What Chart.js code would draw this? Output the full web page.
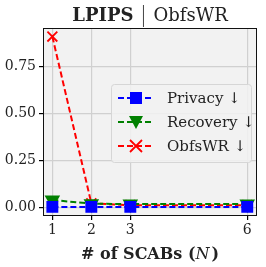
<!DOCTYPE html>
<html>
<head>
<script src="https://cdn.jsdelivr.net/npm/chart.js@4"></script>
<style>
  html, body { margin: 0; padding: 0; background: #fff; }
  #wrap { width: 266px; height: 267px; }
</style>
</head>
<body>
<div id="wrap"><canvas id="c" width="266" height="267"></canvas></div>
<script>
const scabs = [1, 2, 3, 6];
const privacy = [0.003, 0.003, 0.003, 0.003];
const recovery = [0.04, 0.02, 0.018, 0.018];
const obfswr = [0.91, 0.022, 0.012, 0.012];
const yTicks = [0, 0.25, 0.5, 0.75];

const serif = '"DejaVu Serif", "Liberation Serif", serif';

const toXY = arr => arr.map((v, i) => ({ x: scabs[i], y: v }));

const bgPlugin = {
  id: 'bg',
  beforeDraw(chart) {
    const { ctx, chartArea: a } = chart;
    ctx.save();
    ctx.fillStyle = '#f2f2f2';
    ctx.fillRect(a.left, a.top, a.right - a.left, a.bottom - a.top);
    ctx.restore();
  },
  afterDraw(chart) {
    const { ctx, chartArea: a } = chart;
    ctx.save();
    // frame
    ctx.strokeStyle = '#111';
    ctx.lineWidth = 1;
    ctx.strokeRect(a.left + 0.5, a.top + 0.5, a.right - a.left - 1, a.bottom - a.top - 1);

    // title
    ctx.fillStyle = '#222';
    ctx.textBaseline = 'alphabetic';
    ctx.font = 'bold 18px ' + serif;
    const t1 = 'LPIPS';
    const t2 = 'ObfsWR';
    const w1 = ctx.measureText(t1).width;
    ctx.font = '18px ' + serif;
    const w2 = ctx.measureText(t2).width;
    const gap = 20;
    const total = w1 + gap + w2;
    const cx = (a.left + a.right) / 2;
    let x = cx - total / 2;
    ctx.font = 'bold 18px ' + serif;
    ctx.fillText(t1, x, 21);
    ctx.strokeStyle = '#444';
    ctx.beginPath();
    ctx.moveTo(x + w1 + gap / 2, 5);
    ctx.lineTo(x + w1 + gap / 2, 27);
    ctx.stroke();
    ctx.font = '18px ' + serif;
    ctx.fillText(t2, x + w1 + gap, 21);

    // x label
    ctx.textAlign = 'left';
    ctx.font = 'bold 16px ' + serif;
    const l1 = '# of SCABs (';
    const l2 = 'N';
    const l3 = ')';
    const lw1 = ctx.measureText(l1).width;
    ctx.font = 'italic 16px ' + serif;
    const lw2 = ctx.measureText(l2).width;
    ctx.font = 'bold 16px ' + serif;
    const lw3 = ctx.measureText(l3).width;
    let lx = cx - (lw1 + lw2 + lw3 + 2) / 2;
    ctx.fillText(l1, lx, 259);
    ctx.font = 'italic 16px ' + serif;
    ctx.fillText(l2, lx + lw1, 259);
    ctx.font = 'bold 16px ' + serif;
    ctx.fillText(l3, lx + lw1 + lw2 + 2, 259);

    // legend
    const lx0 = 111, ly0 = 84, lwid = 140, lh = 78;
    ctx.fillStyle = 'rgba(242,242,242,0.85)';
    ctx.strokeStyle = '#d6d6d6';
    ctx.lineWidth = 1;
    ctx.beginPath();
    ctx.roundRect(lx0 + 0.5, ly0 + 0.5, lwid, lh, 3);
    ctx.fill();
    ctx.stroke();
    chart.data.datasets.forEach((ds, i) => {
      const yy = ly0 + 14 + i * 24;
      ctx.strokeStyle = ds.borderColor;
      ctx.lineWidth = 2;
      ctx.setLineDash([6, 3]);
      ctx.beginPath();
      ctx.moveTo(lx0 + 7, yy);
      ctx.lineTo(lx0 + 43, yy);
      ctx.stroke();
      ctx.setLineDash([]);
      const mx = lx0 + 25;
      ctx.fillStyle = ds.borderColor;
      if (ds.pointStyle === 'rect') {
        ctx.fillRect(mx - 6, yy - 6, 12, 12);
      } else if (ds.pointStyle === 'triangle') {
        ctx.beginPath();
        ctx.moveTo(mx - 7, yy - 6);
        ctx.lineTo(mx + 7, yy - 6);
        ctx.lineTo(mx, yy + 7);
        ctx.closePath();
        ctx.fill();
      } else {
        ctx.lineWidth = 1.8;
        ctx.beginPath();
        ctx.moveTo(mx - 6, yy - 6); ctx.lineTo(mx + 6, yy + 6);
        ctx.moveTo(mx + 6, yy - 6); ctx.lineTo(mx - 6, yy + 6);
        ctx.stroke();
      }
      ctx.fillStyle = '#222';
      ctx.font = '15px ' + serif;
      ctx.textBaseline = 'middle';
      ctx.fillText(ds.label, lx0 + 56, yy + 1);
      ctx.textBaseline = 'alphabetic';
    });
    ctx.restore();
  }
};

new Chart(document.getElementById('c'), {
  type: 'line',
  data: {
    datasets: [
      { label: 'Privacy ↓', data: toXY(privacy), borderColor: '#0000ff', backgroundColor: '#0000ff',
        pointStyle: 'rect', pointRadius: 7, borderDash: [6, 3], borderWidth: 2 },
      { label: 'Recovery ↓', data: toXY(recovery), borderColor: '#008000', backgroundColor: '#008000',
        pointStyle: 'triangle', rotation: 180, pointRadius: 7, borderDash: [6, 3], borderWidth: 2 },
      { label: 'ObfsWR ↓', data: toXY(obfswr), borderColor: '#ff0000', backgroundColor: '#ff0000',
        pointStyle: 'crossRot', pointRadius: 7, pointBorderWidth: 1.8, borderDash: [6, 3], borderWidth: 2 }
    ]
  },
  options: {
    responsive: false,
    animation: false,
    events: [],
    layout: { padding: { top: 28, right: 8, bottom: 0, left: 0 } },
    plugins: { legend: { display: false }, tooltip: { enabled: false } },
    scales: {
      x: {
        type: 'linear', min: 0.76, max: 6.25,
        afterBuildTicks: ax => { ax.ticks = scabs.map(v => ({ value: v })); },
        afterFit: ax => { ax.height = 51; },
        ticks: { color: '#222', font: { family: serif, size: 14 }, padding: 2, callback: v => String(v) },
        grid: { color: '#d0d0d0', lineWidth: 1.2, tickColor: '#000', tickLength: 4 },
        border: { display: false }
      },
      y: {
        min: -0.0455, max: 0.9555,
        afterBuildTicks: ax => { ax.ticks = yTicks.map(v => ({ value: v })); },
        afterFit: ax => { ax.width = 43; },
        ticks: { color: '#222', font: { family: serif, size: 14 }, padding: 3, callback: v => v.toFixed(2) },
        grid: { color: '#d0d0d0', lineWidth: 1.2, tickColor: '#000', tickLength: 4 },
        border: { display: false }
      }
    }
  },
  plugins: [bgPlugin]
});
</script>
</body>
</html>
